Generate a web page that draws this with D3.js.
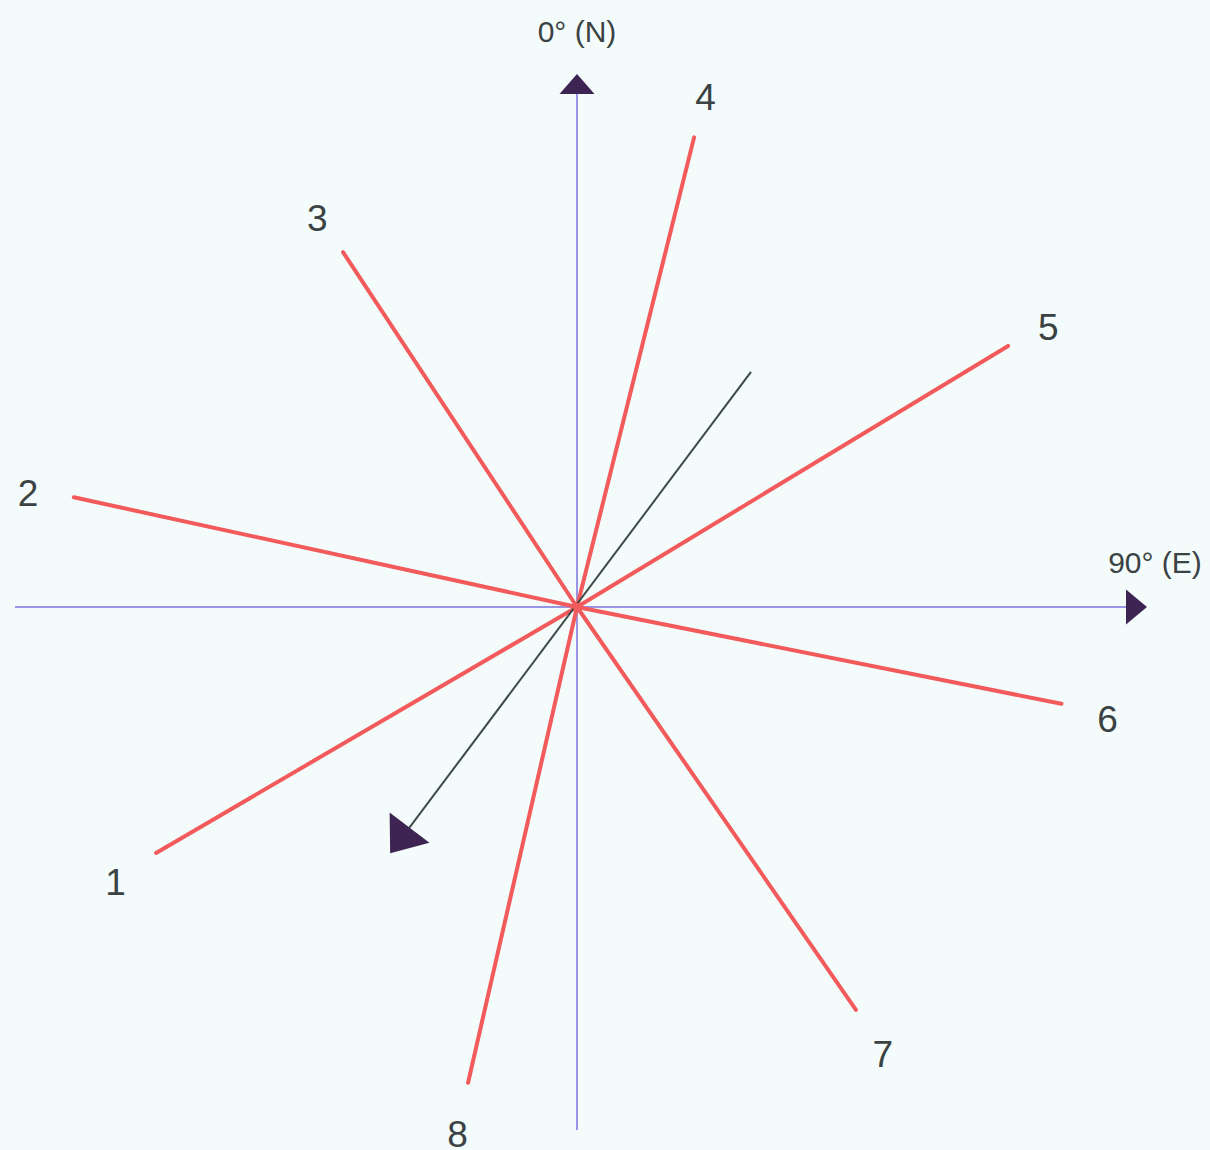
<!DOCTYPE html>
<html>
<head>
<meta charset="utf-8">
<script src="https://cdn.jsdelivr.net/npm/d3@7"></script>
<style>
  html, body { margin: 0; padding: 0; background: #f3fcfa; }
  text { font-family: "Liberation Sans", Arial, sans-serif; fill: #3b4244; }
</style>
</head>
<body>
<div id="compass"></div>
<script>
// line labels, bearings (deg clockwise from north) and lengths (relative units)
var labels   = ["1", "2", "3", "4", "5", "6", "7", "8"];
var bearings = [239.7, 282.3, 326.6, 14.0, 58.8, 101.3, 145.3, 192.9];
var lengths  = [97.5, 103, 85, 96.8, 100.8, 98.8, 98, 97.6];

// mean direction line (black), two ends
var meanBearings = [36.5, 217.2];
var meanLengths  = [58.5, 61.8];

var axisLabels = ["0° (N)", "90° (E)"];

var width = 1210,
    height = 1150;
var cx = 577, cy = 607;

var r = d3.scaleLinear().domain([0, 100]).range([0, 500]);
var rad = d => d * Math.PI / 180;

var svg = d3.select("#compass")
    .append("svg")
    .attr("width", width)
    .attr("height", height)
    .style("display", "block");

svg.append("rect")
    .attr("width", width)
    .attr("height", height)
    .attr("fill", "#f3fcfa");

var g = svg.append("g")
    .attr("transform", "translate(" + cx + "," + cy + ")");

// triangle with tip at radius tipR along bearing b
function arrowHead(b, tipR, len, w) {
    var tip = d3.pointRadial(rad(b), tipR);
    var base = d3.pointRadial(rad(b), tipR - len);
    var px = Math.cos(rad(b)) * w / 2, py = Math.sin(rad(b)) * w / 2;
    return "M" + tip + "L" + [base[0] + px, base[1] + py] + "L" + [base[0] - px, base[1] - py] + "Z";
}

// axes: north, east, south, west
var axisColor = "#7a74dc";
var axes = [[0, 103], [90, 111.8], [180, 104.6], [270, 112.4]];
g.selectAll(".axis")
    .data(axes)
    .enter()
    .append("line")
    .attr("class", "axis")
    .attr("x1", 0).attr("y1", 0)
    .attr("x2", d => d3.pointRadial(rad(d[0]), r(d[1]))[0])
    .attr("y2", d => d3.pointRadial(rad(d[0]), r(d[1]))[1])
    .attr("stroke", axisColor)
    .attr("stroke-width", 1.5);

g.append("path").attr("d", arrowHead(0, r(106.6), 20, 35)).attr("fill", "#3e2452");
g.append("path").attr("d", arrowHead(90, r(114), 21, 35)).attr("fill", "#3e2452");

g.append("text")
    .attr("x", 0)
    .attr("y", 42 - cy)
    .attr("text-anchor", "middle")
    .style("font-size", "30px")
    .text(axisLabels[0]);

g.append("text")
    .attr("x", 1155 - cx)
    .attr("y", 573 - cy)
    .attr("text-anchor", "middle")
    .style("font-size", "30px")
    .text(axisLabels[1]);

// red lines
var data = labels.map((l, i) => ({label: l, b: bearings[i], len: lengths[i]}));

g.selectAll(".ray")
    .data(data)
    .enter()
    .append("line")
    .attr("class", "ray")
    .attr("x1", 0).attr("y1", 0)
    .attr("x2", d => d3.pointRadial(rad(d.b), r(d.len))[0])
    .attr("y2", d => d3.pointRadial(rad(d.b), r(d.len))[1])
    .attr("stroke", "#f25a5c")
    .attr("stroke-width", 4)
    .attr("stroke-linecap", "round");

g.selectAll(".ray-label")
    .data(data)
    .enter()
    .append("text")
    .attr("class", "ray-label")
    .attr("x", d => d3.pointRadial(rad(d.b), r(d.len) + 47)[0])
    .attr("y", d => d3.pointRadial(rad(d.b), r(d.len) + 47)[1])
    .attr("text-anchor", "middle")
    .attr("dy", "0.5em")
    .style("font-size", "37px")
    .text(d => d.label);

// black mean line with arrowhead at SW end
var p1 = d3.pointRadial(rad(meanBearings[0]), r(meanLengths[0]));
var p2 = d3.pointRadial(rad(meanBearings[1]), r(meanLengths[1]) - 25);
g.append("line")
    .attr("x1", p1[0]).attr("y1", p1[1])
    .attr("x2", p2[0]).attr("y2", p2[1])
    .attr("stroke", "#3d4a48")
    .attr("stroke-width", 2);

g.append("path")
    .attr("d", arrowHead(meanBearings[1], r(meanLengths[1]), 32, 50))
    .attr("fill", "#3e2452");

g.append("circle").attr("r", 4).attr("fill", "#f25a5c");
</script>
</body>
</html>
